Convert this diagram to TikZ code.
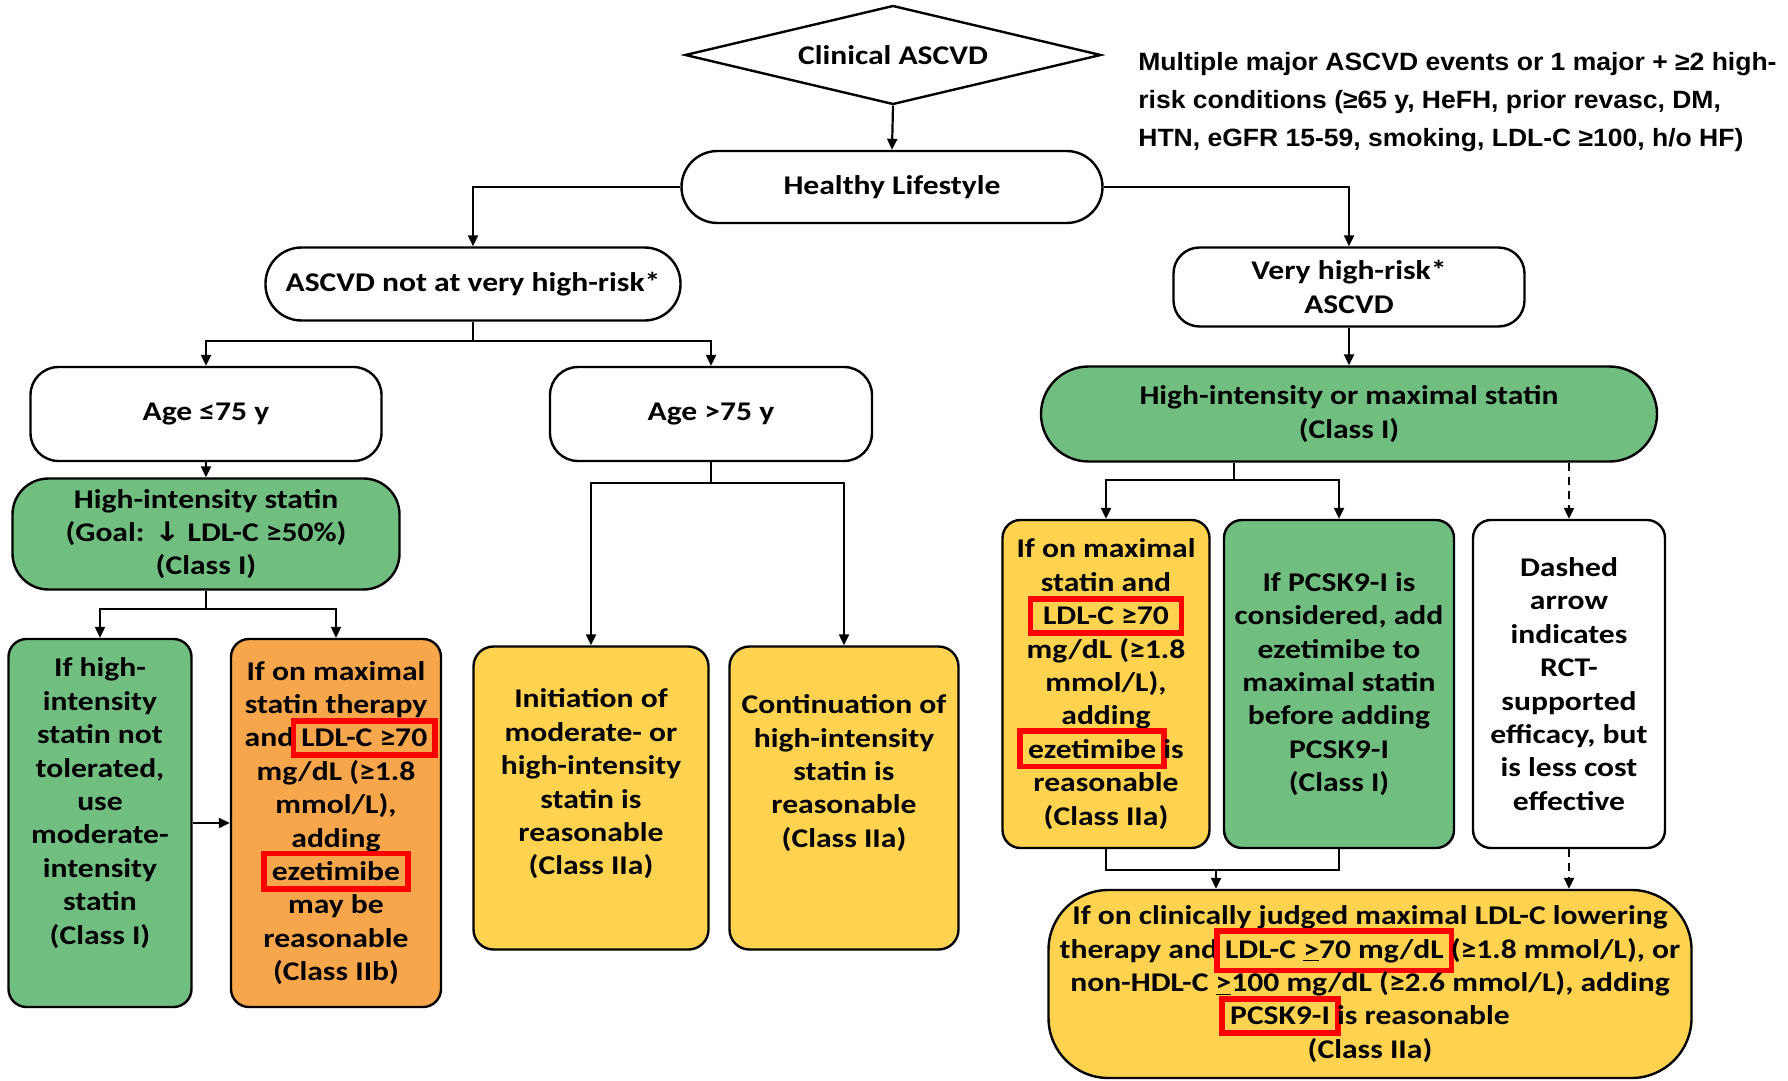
\documentclass[tikz,border=0pt]{standalone}
\usepackage{fontspec}
\setmainfont{Carlito}[FakeStretch=1.17]
\newfontfamily\notefont[FakeStretch=1.06]{Liberation Sans}
\newfontfamily\arrfont[FakeStretch=1.17]{DejaVu Sans}
\usetikzlibrary{arrows.meta,shapes.geometric,calc}
\definecolor{gfill}{HTML}{70BF81}
\definecolor{yfill}{HTML}{FFD250}
\definecolor{ofill}{HTML}{F7A64B}
\newcommand\fs{\fontsize{13.5}{16.7}\selectfont\bfseries}
\newcommand\hl[1]{\smash{\kern-5.4pt\textcolor{red}{\fboxsep=2.6pt\fboxrule=2.8pt\fbox{\textcolor{black}{#1}}}\kern-5.4pt}}
\begin{document}
\begin{tikzpicture}[x=0.5pt,y=-0.5pt,
  box/.style={draw=black, line width=1.2pt, align=center, font=\fs, inner sep=0pt, rounded corners=#1},
  box/.default=10pt,
  txt/.style={align=center, font=\fs, inner sep=0pt},
  arr/.style={line width=1.1pt, -{Triangle[length=5.5pt,width=5pt]}},
  lin/.style={line width=1.1pt},
  darr/.style={line width=1.1pt, dashed, dash pattern=on 4pt off 3pt, -{Triangle[length=5.5pt,width=5pt]}}
]
\fill[white] (0,0) rectangle (1788,1081);
\useasboundingbox (0,0) rectangle (1788,1081);

% top
\node[diamond, draw, line width=1.2pt, aspect=4.2, minimum width=208pt, minimum height=49.5pt, inner sep=0pt, font=\fs] (dia) at (893,55) {Clinical ASCVD};
\node[anchor=north west, align=left, inner sep=0pt, font=\notefont\bfseries\fontsize{12.5}{19}\selectfont] (note) at (1138,52)
  {Multiple major ASCVD events or 1 major + ≥2 high-\\risk conditions (≥65 y, HeFH, prior revasc, DM,\\HTN, eGFR 15-59, smoking, LDL-C ≥100, h/o HF)};
\node[box=18pt, minimum width=210.5pt, minimum height=36pt] (heal) at (892,187) {Healthy Lifestyle};

% second level
\node[box=18pt, minimum width=207.5pt, minimum height=36.5pt] (notvh) at (473,284) {ASCVD not at very high-risk*};
\node[box=13pt, minimum width=175.5pt, minimum height=39.5pt] (vh) at (1349,287) {Very high-risk*\\ASCVD};

% left branch
\node[box=14pt, minimum width=175.5pt, minimum height=47pt] (age1) at (206,414) {Age ≤75 y};
\node[box=14pt, minimum width=161pt, minimum height=47pt] (age2) at (711,414) {Age >75 y};
\node[box=18pt, fill=gfill, minimum width=193.5pt, minimum height=55.5pt] (his) at (206,534)
  {High-intensity statin\\(Goal: {\arrfont\bfseries ↓} LDL-C ≥50\%)\\(Class I)};
\node[box=9pt, fill=gfill, minimum width=91.5pt, minimum height=184pt] (intol) at (100,823) {};
\node[txt] (intolt) at (100,803) {If high-\\intensity\\statin not\\tolerated,\\use\\moderate-\\intensity\\statin\\(Class I)};
\node[box=9pt, fill=ofill, minimum width=105pt, minimum height=184pt] (orng) at (336,823)
  {If on maximal\\statin therapy\\and \hl{LDL-C ≥70}\\mg/dL (≥1.8\\mmol/L),\\adding\\\hl{ezetimibe}\\may be\\reasonable\\(Class IIb)};
\node[box=10pt, fill=yfill, minimum width=117.5pt, minimum height=151.5pt] (init) at (591,798) {};
\node[txt] (initt) at (591,784) {Initiation of\\moderate- or\\high-intensity\\statin is\\reasonable\\(Class IIa)};
\node[box=10pt, fill=yfill, minimum width=114.5pt, minimum height=151.5pt] (cont) at (844,798) {};
\node[txt] (contt) at (844,773) {Continuation of\\high-intensity\\statin is\\reasonable\\(Class IIa)};

% right branch
\node[box=23.75pt, fill=gfill, minimum width=308pt, minimum height=47.5pt] (himax) at (1349,414)
  {High-intensity or maximal statin\\(Class I)};
\node[box=9pt, fill=yfill, minimum width=103.5pt, minimum height=164pt] (ezy) at (1106,684)
  {If on maximal\\statin and\\\hl{\,LDL-C ≥70\,}\\mg/dL (≥1.8\\mmol/L),\\adding\\\hl{ezetimibe} is\\reasonable\\(Class IIa)};
\node[box=9pt, fill=gfill, minimum width=115pt, minimum height=164pt] (pcsk) at (1339,684)
  {If PCSK9-I is\\considered, add\\ezetimibe to\\maximal statin\\before adding\\PCSK9-I\\(Class I)};
\node[box=9pt, fill=white, minimum width=96pt, minimum height=164pt] (dsh) at (1569,684)
  {Dashed\\arrow\\indicates\\RCT-\\supported\\efficacy, but\\is less cost\\effective};
\node[box=30pt, fill=yfill, minimum width=321.5pt, minimum height=94pt] (final) at (1370,984)
  {If on clinically judged maximal LDL-C lowering\\therapy and \hl{LDL-C \underline{>}70 mg/dL} (≥1.8 mmol/L), or\\non-HDL-C \underline{>}100 mg/dL (≥2.6 mmol/L), adding\\\hl{PCSK9-I} is reasonable\\(Class IIa)};

% connectors
\draw[arr] (dia.south) -- (heal.north);
\draw[arr] (heal.west) -| (notvh.north);
\draw[arr] (heal.east) -| (vh.north);

\draw[lin] (notvh.south) -- ++(0,19) coordinate (j1);
\draw[arr] (j1) -| (age1.north);
\draw[arr] (j1) -| (age2.north);

\draw[arr] (age1.south) -- (his.north);
\draw[lin] (his.south) -- ++(0,18) coordinate (j2);
\draw[arr] (j2) -| (intol.north);
\draw[arr] (j2) -| (orng.north);
\draw[arr] (intol.east) -- (orng.west);

\draw[lin] (age2.south) -- ++(0,21) coordinate (j3);
\draw[arr] (j3) -| (init.north);
\draw[arr] (j3) -| (cont.north);

\draw[arr] (vh.south) -- (himax.north);
\coordinate (j4) at (1234,480);
\draw[lin] (j4 |- himax.south) -- (j4);
\draw[arr] (j4) -| (ezy.north);
\draw[arr] (j4) -| (pcsk.north);
\draw[darr] (dsh.north |- himax.south) -- (dsh.north);

\draw[lin] (ezy.south) -- ++(0,21) coordinate (j5) -| (pcsk.south);
\coordinate (j6) at (1216,869);
\draw[arr] (j6) -- (j6 |- final.north);
\draw[darr] (dsh.south) -- (dsh.south |- final.north);
\end{tikzpicture}
\end{document}
